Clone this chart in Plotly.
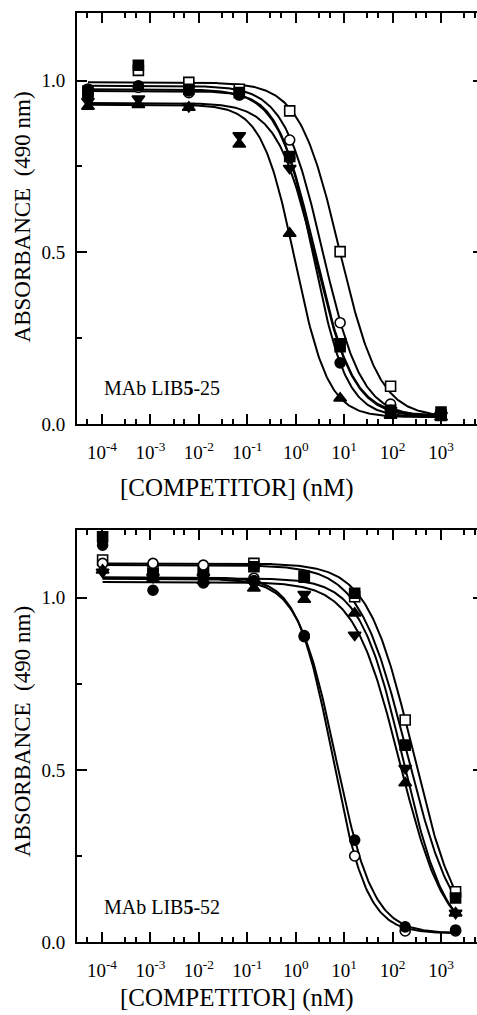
import numpy as np
import plotly.graph_objects as go

# ---------------- data ----------------
# Panel 1: MAb LIB5-25
conc_25 = [5.13e-5, 5.64e-4, 6.21e-3, 0.0683, 0.751, 8.26, 90.9, 1000]
open_sq_25 = [0.97, 1.03, 0.995, 0.975, 0.912, 0.502, 0.11, 0.025]
open_ci_25 = [0.975, 0.98, 0.965, 0.958, 0.827, 0.295, 0.058, 0.025]
fill_sq_25 = [0.96, 1.045, 0.975, 0.965, 0.779, 0.225, 0.04, 0.035]
fill_ci_25 = [0.975, 0.985, 0.97, 0.96, 0.775, 0.178, 0.04, 0.025]
down_tri_25 = [0.94, 0.947, 0.925, 0.84, 0.745, 0.24, 0.04, 0.025]
up_tri_25 = [0.925, 0.93, 0.922, 0.815, 0.555, 0.075, 0.025, 0.02]
# fitted logistic parameters (top, bottom, IC50 nM, slope)
fit_open_sq_25 = [0.995, 0.02, 8.0, 1.05]
fit_open_ci_25 = [0.985, 0.02, 3.6, 1.085]
fit_fill_sq_25 = [0.975, 0.025, 2.5, 1.11]
fit_fill_ci_25 = [0.97, 0.02, 2.25, 1.24]
fit_down_tri_25 = [0.935, 0.02, 2.57, 1.09]
fit_up_tri_25 = [0.93, 0.02, 0.97, 1.27]

# Panel 2: MAb LIB5-52
conc_52 = [1.03e-4, 1.13e-3, 0.0124, 0.137, 1.50, 16.5, 182, 2000]
open_sq_52 = [1.11, 1.085, 1.08, 1.10, 1.063, 1.003, 0.645, 0.146]
fill_sq_52 = [1.177, 1.07, 1.075, 1.09, 1.06, 1.013, 0.572, 0.128]
open_ci_52 = [1.10, 1.10, 1.095, 1.057, 0.887, 0.25, 0.032, 0.032]
fill_ci_52 = [1.153, 1.022, 1.043, 1.05, 0.89, 0.296, 0.044, 0.035]
down_tri_52 = [1.075, 1.06, 1.06, 1.04, 1.01, 0.892, 0.505, 0.084]
up_tri_52 = [1.08, 1.055, 1.05, 1.028, 0.995, 0.955, 0.462, 0.084]
fit_open_sq_52 = [1.10, 0.0, 266, 0.925]
fit_fill_sq_52 = [1.095, 0.0, 200, 0.88]
fit_open_ci_52 = [1.06, 0.025, 5.67, 1.2]
fit_fill_ci_52 = [1.055, 0.025, 6.6, 1.12]
fit_down_tri_52 = [1.057, 0.0, 165, 0.98]
fit_up_tri_52 = [1.046, 0.0, 140, 0.92]

x_tick_vals = [1e-4, 1e-3, 1e-2, 1e-1, 1e0, 1e1, 1e2, 1e3]
x_tick_text = ["10<sup>-4</sup>", "10<sup>-3</sup>", "10<sup>-2</sup>", "10<sup>-1</sup>",
               "10<sup>0</sup>", "10<sup>1</sup>", "10<sup>2</sup>", "10<sup>3</sup>"]
x_minor_vals = [m * 10.0 ** d for d in range(-5, 4) for m in (3, 5)]
y_tick_vals = [0.0, 0.5, 1.0]
y_tick_text = ["0.0", "0.5", "1.0"]
y_minor_vals = [0.25, 0.75]

x_title = "[COMPETITOR] (nM)"
y_title = "ABSORBANCE  (490 nm)"
label_25 = "MAb LIB<b>5</b>-25"
label_52 = "MAb LIB<b>5</b>-52"

# ---------------- figure ----------------
FONT = "Liberation Serif"


def four_pl(x, p):
    top, bottom, ic50, hill = p
    return bottom + (top - bottom) / (1.0 + (x / ic50) ** hill)


fig = go.Figure()

panels = [
    ("x", "y", conc_25, [
        (open_sq_25, fit_open_sq_25, "square", "white"),
        (open_ci_25, fit_open_ci_25, "circle", "white"),
        (fill_sq_25, fit_fill_sq_25, "square", "black"),
        (fill_ci_25, fit_fill_ci_25, "circle", "black"),
        (down_tri_25, fit_down_tri_25, "triangle-down", "black"),
        (up_tri_25, fit_up_tri_25, "triangle-up", "black"),
    ]),
    ("x2", "y2", conc_52, [
        (open_sq_52, fit_open_sq_52, "square", "white"),
        (fill_sq_52, fit_fill_sq_52, "square", "black"),
        (open_ci_52, fit_open_ci_52, "circle", "white"),
        (fill_ci_52, fit_fill_ci_52, "circle", "black"),
        (down_tri_52, fit_down_tri_52, "triangle-down", "black"),
        (up_tri_52, fit_up_tri_52, "triangle-up", "black"),
    ]),
]

for xa, ya, conc, series in panels:
    xs = np.logspace(np.log10(min(conc)), np.log10(max(conc)), 300)
    for vals, fit, sym, fill in series:
        fig.add_trace(go.Scatter(x=xs, y=four_pl(xs, fit), mode="lines",
                                 line=dict(color="black", width=2),
                                 xaxis=xa, yaxis=ya, showlegend=False, hoverinfo="skip"))
    for vals, fit, sym, fill in series:
        size = 11 if "triangle" in sym else 10
        fig.add_trace(go.Scatter(x=conc, y=vals, mode="markers",
                                 marker=dict(symbol=sym, size=size, color=fill,
                                             line=dict(color="black", width=1.6)),
                                 xaxis=xa, yaxis=ya, showlegend=False))

# empty traces so the right-hand tick axes are drawn
fig.add_trace(go.Scatter(x=[None], y=[None], xaxis="x", yaxis="y3", showlegend=False))
fig.add_trace(go.Scatter(x=[None], y=[None], xaxis="x2", yaxis="y4", showlegend=False))

XR = [-4.516, 3.743]
YR = [0.0, 1.197]

xcommon = dict(type="log", range=XR, tickmode="array", tickvals=x_tick_vals, ticktext=x_tick_text,
               ticks="inside", ticklen=10, tickwidth=1.6, tickcolor="black",
               showline=True, linecolor="black", linewidth=2, mirror="ticks",
               showgrid=False, zeroline=False, ticklabelstandoff=10,
               tickfont=dict(family=FONT, size=19, color="black"),
               minor=dict(tickmode="array", tickvals=x_minor_vals, ticks="inside",
                          ticklen=5, tickwidth=1.6, tickcolor="black", showgrid=False))
ycommon = dict(range=YR, tickmode="array", tickvals=y_tick_vals, ticktext=y_tick_text,
               ticks="inside", ticklen=10, tickwidth=1.6, tickcolor="black",
               showline=True, linecolor="black", linewidth=2, mirror=False,
               showgrid=False, zeroline=False, ticklabelstandoff=6,
               tickfont=dict(family=FONT, size=19, color="black"),
               minor=dict(tickmode="array", tickvals=y_minor_vals, ticks="inside",
                          ticklen=5, tickwidth=1.6, tickcolor="black", showgrid=False))
yright = dict(range=YR, tickmode="array", tickvals=y_tick_vals, ticks="inside", ticklen=4,
              tickwidth=1.6, tickcolor="black", showline=False, showticklabels=False,
              showgrid=False, zeroline=False, side="right")

TOP_DOM = [0.5576, 1.0]
BOT_DOM = [0.0, 0.4435]

fig.update_layout(
    width=477, height=1015,
    margin=dict(l=77, r=0, t=13, b=73),
    paper_bgcolor="white", plot_bgcolor="white",
    xaxis=dict(xcommon, domain=[0, 1], anchor="y"),
    yaxis=dict(ycommon, domain=TOP_DOM, anchor="x"),
    xaxis2=dict(xcommon, domain=[0, 1], anchor="y2"),
    yaxis2=dict(ycommon, domain=BOT_DOM, anchor="x2"),
    yaxis3=dict(yright, overlaying="y", anchor="x"),
    yaxis4=dict(yright, overlaying="y2", anchor="x2"),
    font=dict(family=FONT, color="black"),
)

ann = []
for ytitle_y, xtitle_y, lab, lab_y in [(0.7799, 0.4887, label_25, 0.5963),
                                       (0.226, -0.0605, label_52, 0.0377)]:
    ann.append(dict(text=y_title, xref="paper", yref="paper", x=-0.1375, y=ytitle_y,
                    textangle=-90, showarrow=False, xanchor="center", yanchor="middle",
                    font=dict(family=FONT, size=23, color="black")))
    ann.append(dict(text=x_title, xref="paper", yref="paper", x=0.4, y=xtitle_y,
                    showarrow=False, xanchor="center", yanchor="middle",
                    font=dict(family=FONT, size=25, color="black")))
    ann.append(dict(text=lab, xref="paper", yref="paper", x=0.0625, y=lab_y,
                    showarrow=False, xanchor="left", yanchor="middle",
                    font=dict(family=FONT, size=20, color="black")))
fig.update_layout(annotations=ann)

fig.write_html("out.html", config={"displayModeBar": False},
               post_script="document.body.style.margin='0';document.body.style.overflow='hidden';")
